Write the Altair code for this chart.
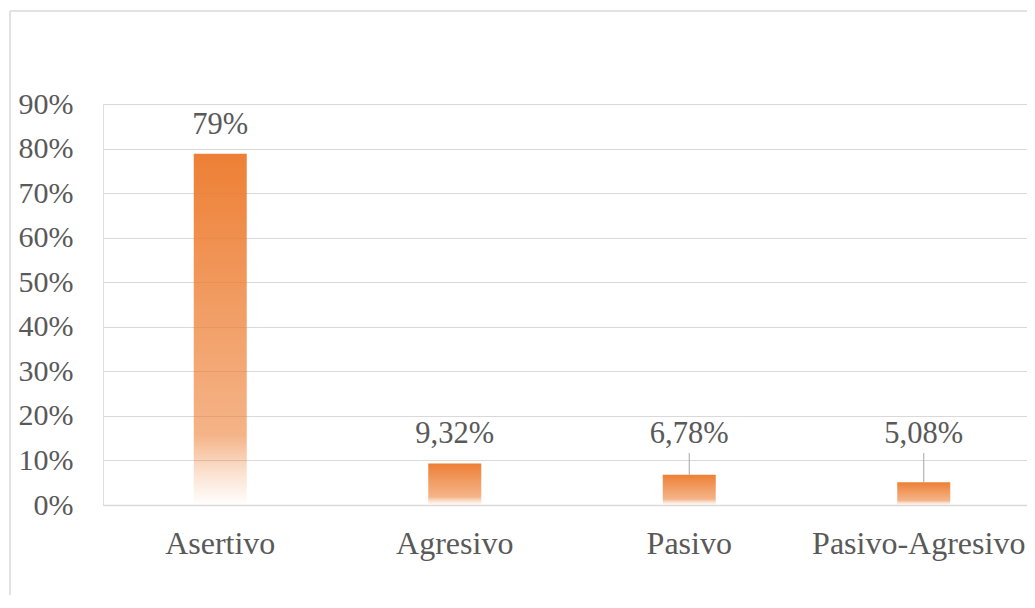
import altair as alt
import pandas as pd

categories = ["Asertivo", "Agresivo", "Pasivo", "Pasivo-Agresivo"]
values = [0.7882, 0.0932, 0.0678, 0.0508]
labels = ["79%", "9,32%", "6,78%", "5,08%"]
y_ticks = [0, 0.1, 0.2, 0.3, 0.4, 0.5, 0.6, 0.7, 0.8, 0.9]

df = pd.DataFrame({"cat": categories, "value": values, "label": labels})

FONT = "Liberation Serif"
TXT = "#595959"
W, H = 924, 401
x_scale = alt.Scale(paddingInner=0, paddingOuter=0, range=[0, 938])

x_enc = alt.X("cat:N", sort=categories, title=None, scale=x_scale,
              axis=alt.Axis(labelAngle=0, ticks=False, domain=True,
                            domainColor="#D9D9D9", domainWidth=1.5,
                            labelFont=FONT, labelFontSize=32, labelColor=TXT,
                            labelLimit=0,
                            labelOffset={"condition": {"test": "datum.value === 'Pasivo-Agresivo'",
                                                       "value": -5},
                                         "value": 0},
                            labelBaseline="middle", labelPadding=38, grid=False))
y_scale = alt.Scale(domain=[0, 0.9], nice=False)

gradient = alt.Gradient(
    gradient="linear", x1=0, x2=0, y1=0, y2=1,
    stops=[
        alt.GradientStop(color="rgba(237,125,49,0.98)", offset=0),
        alt.GradientStop(color="rgba(237,125,49,0.72)", offset=0.5),
        alt.GradientStop(color="rgba(237,125,49,0.58)", offset=0.8),
        alt.GradientStop(color="rgba(237,125,49,0.25)", offset=0.9),
        alt.GradientStop(color="rgba(237,125,49,0.0)", offset=1),
    ],
)

base = alt.Chart(df)
one = base.transform_filter("datum.cat == 'Asertivo'")

frame_top = one.mark_rule(color="#D9D9D9", strokeWidth=1.5).encode(
    x=alt.value(-93), x2=alt.value(W + 40), y=alt.value(-93)
)
frame_left = one.mark_rule(color="#D9D9D9", strokeWidth=1.5).encode(
    x=alt.value(-93), y=alt.value(-93), y2=alt.value(H + 150)
)

bars = base.mark_bar(size=53, color=gradient).encode(
    x=x_enc,
    y=alt.Y("value:Q", scale=y_scale, title=None,
            axis=alt.Axis(values=y_ticks, format=".0%", ticks=False, domain=False,
                          labelFont=FONT, labelFontSize=30, labelColor=TXT,
                          labelPadding=30, gridColor="#D9D9D9", gridWidth=1.2)),
)

leaders = base.transform_filter("datum.value < 0.09").transform_calculate(
    anchor="max(datum.value, 0.0932)"
).mark_rule(color="#A6A6A6", strokeWidth=1, y2Offset=-10.5).encode(
    x=alt.X("cat:N", sort=categories, scale=x_scale),
    y=alt.Y("value:Q", scale=y_scale),
    y2="anchor:Q",
)

texts = base.transform_calculate(
    anchor="max(datum.value, 0.0932)"
).mark_text(font=FONT, fontSize=30.5, color=TXT, baseline="middle", dy=-29).encode(
    x=alt.X("cat:N", sort=categories, scale=x_scale),
    y=alt.Y("anchor:Q", scale=y_scale),
    text="label:N",
)

chart = alt.layer(frame_top, frame_left, bars, leaders, texts).properties(
    width=W, height=H,
    padding={"left": 95, "top": 96, "right": 0, "bottom": 90},
    autosize=alt.AutoSizeParams(type="none"),
).configure_view(stroke=None).configure(background="transparent")

chart.save("out.html", embed_options={"renderer": "svg", "actions": False})
